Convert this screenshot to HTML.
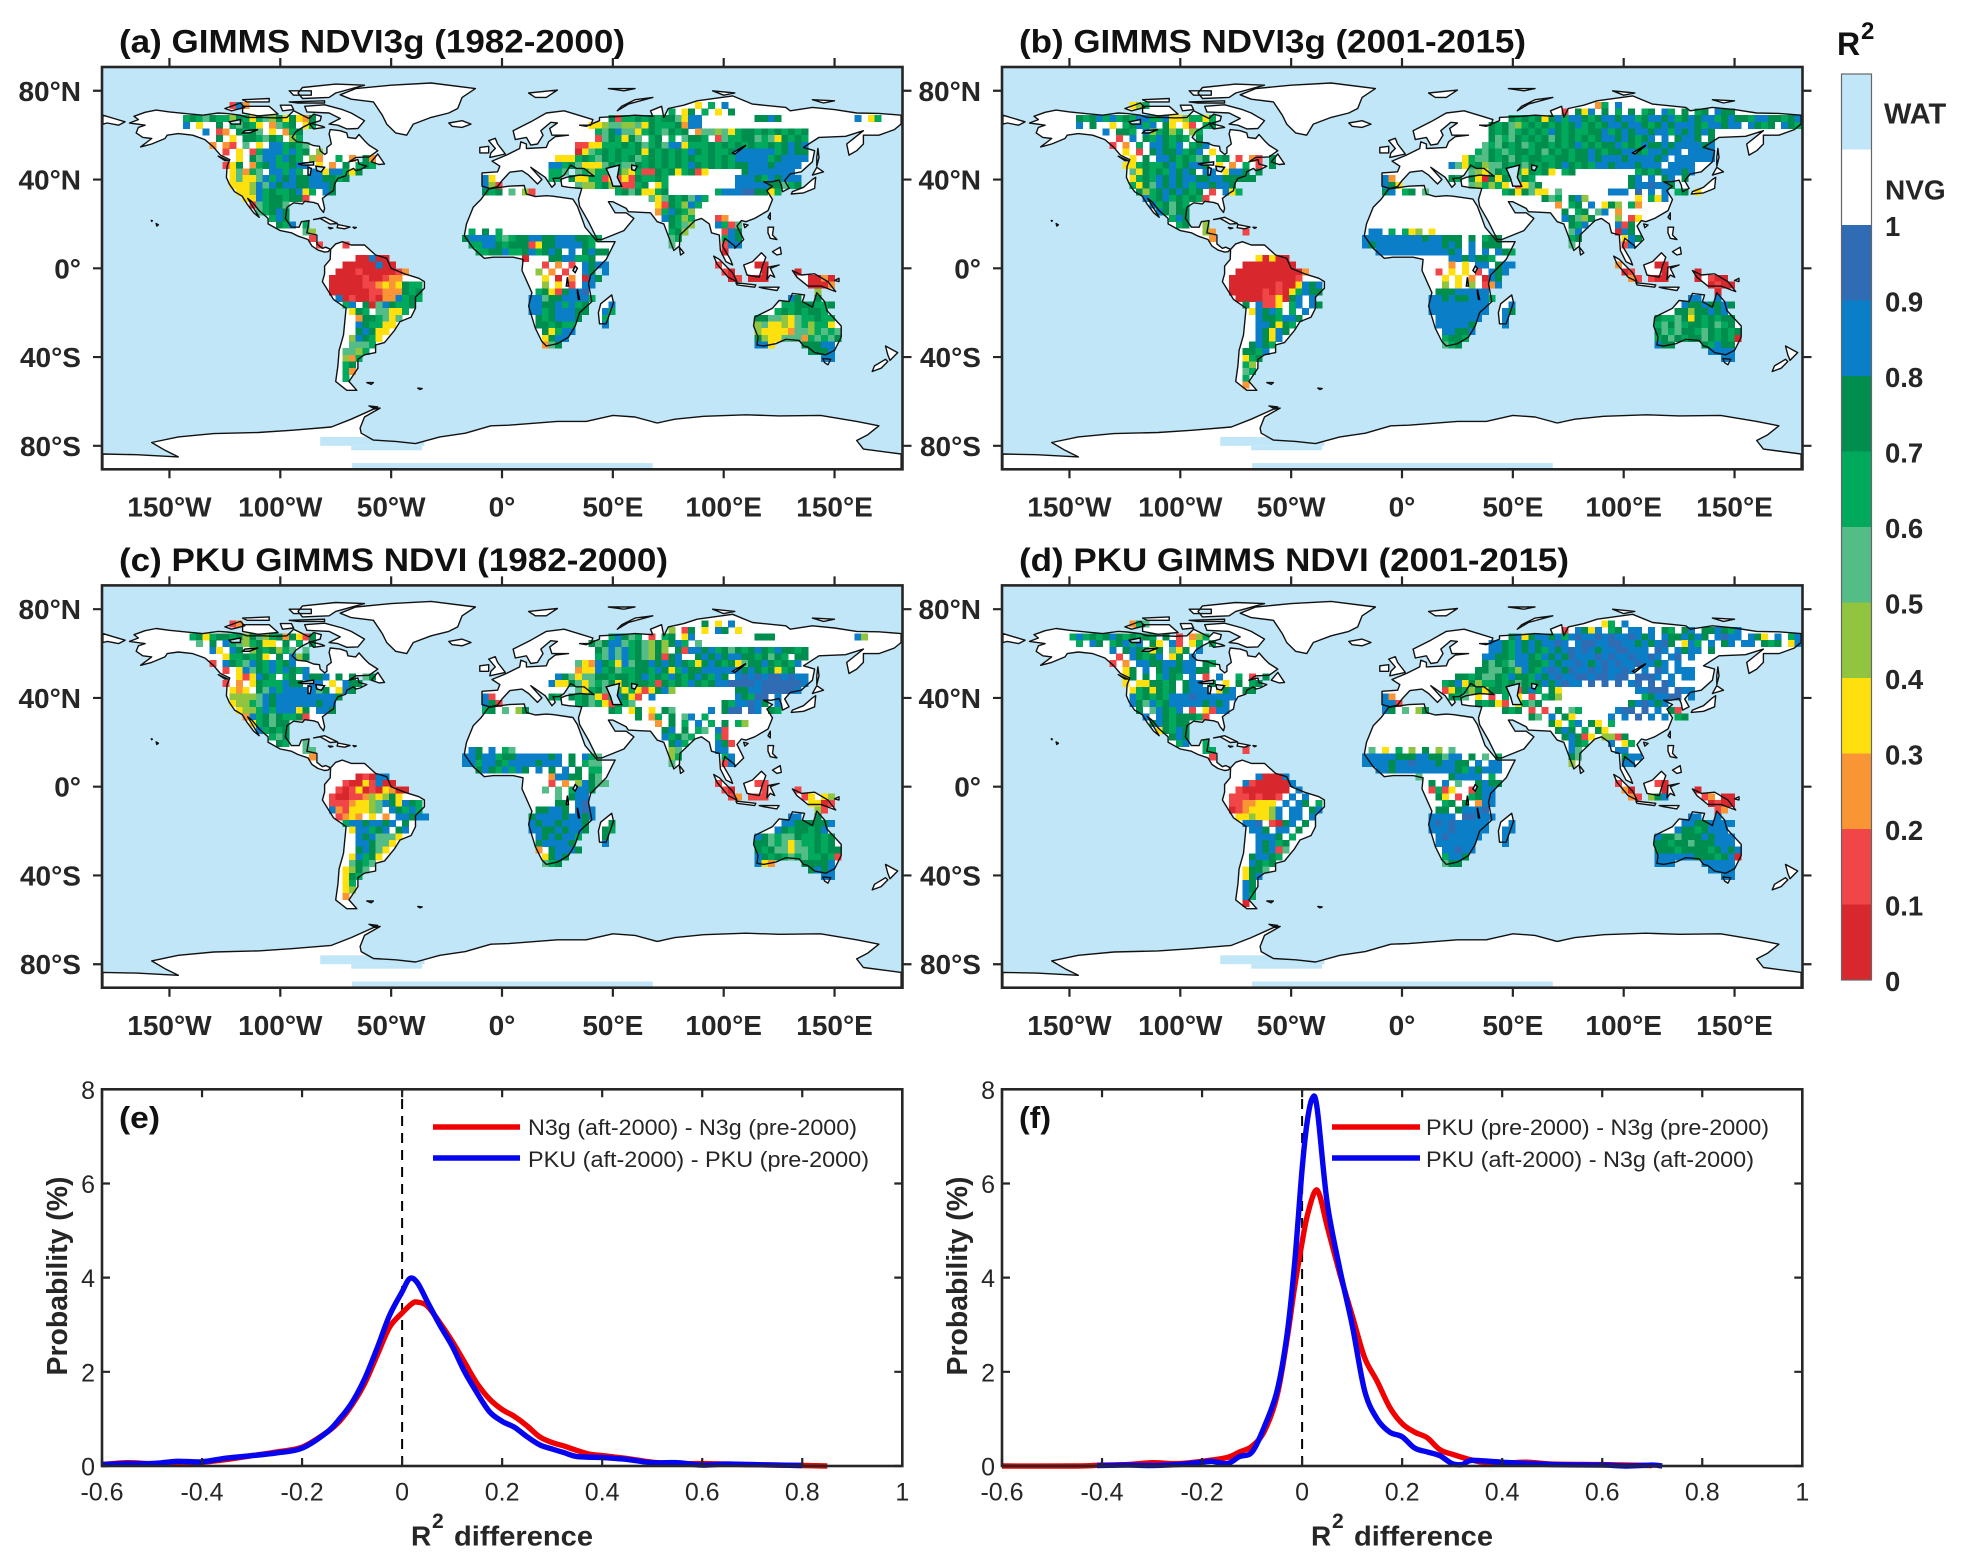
<!DOCTYPE html>
<html lang="en">
<head>
<meta charset="utf-8">
<title>R2 maps and difference distributions</title>
<style>
html,body{margin:0;padding:0;background:#fff;width:1968px;height:1565px;overflow:hidden}
svg{display:block;font-family:"Liberation Sans",Arial,sans-serif}
</style>
</head>
<body>
<svg id="figure" xmlns="http://www.w3.org/2000/svg" width="1968" height="1565" viewBox="0 0 1968 1565"></svg>
<script>
/* ---------- chart data ---------- */
const palette = ["#d9272e","#f04648","#f99534","#ffe00f","#92c53f","#54bc87","#00a95c","#008e4e","#0b7ec8","#2f6cb4"];
const waterColor = "#c1e6f7";
const colorbarLabels = ["0","0.1","0.2","0.3","0.4","0.5","0.6","0.7","0.8","0.9","1"];
const lonTicks = [-150,-100,-50,0,50,100,150];
const lonLabels = ["150°W","100°W","50°W","0°","50°E","100°E","150°E"];
const latTicks = [80,40,0,-40,-80];
const latLabels = ["80°N","40°N","0°","40°S","80°S"];
const diffTicks = [-0.6,-0.4,-0.2,0,0.2,0.4,0.6,0.8,1];
const diffLabels = ["-0.6","-0.4","-0.2","0","0.2","0.4","0.6","0.8","1"];
const probTicks = [0,2,4,6,8];
const probLabels = ["0","2","4","6","8"];

const eRedX = [-0.6,-0.55,-0.5,-0.45,-0.4,-0.35,-0.3,-0.25,-0.2,-0.15,-0.125,-0.1,-0.075,-0.05,-0.025,0,0.02,0.03,0.05,0.075,0.1,0.125,0.15,0.175,0.2,0.225,0.25,0.275,0.3,0.325,0.35,0.375,0.4,0.45,0.5,0.55,0.6,0.7,0.8,0.85];
const eRedY = [0.03,0.07,0.05,0.06,0.08,0.14,0.22,0.3,0.4,0.72,0.95,1.3,1.75,2.35,2.95,3.25,3.45,3.48,3.4,3.05,2.65,2.2,1.75,1.42,1.2,1.05,0.85,0.62,0.5,0.42,0.33,0.25,0.22,0.16,0.08,0.05,0.05,0.03,0.01,0];
const eBlueX = [-0.6,-0.55,-0.5,-0.45,-0.4,-0.35,-0.3,-0.25,-0.2,-0.15,-0.125,-0.1,-0.075,-0.05,-0.025,0,0.015,0.03,0.05,0.075,0.1,0.125,0.15,0.175,0.2,0.225,0.25,0.275,0.3,0.325,0.35,0.4,0.45,0.5,0.55,0.6,0.65,0.7,0.8];
const eBlueY = [0.03,0.05,0.05,0.1,0.09,0.17,0.22,0.28,0.38,0.72,1,1.35,1.85,2.5,3.2,3.7,3.98,3.9,3.5,3,2.55,2,1.55,1.15,0.95,0.82,0.62,0.45,0.36,0.28,0.2,0.18,0.14,0.07,0.07,0.02,0.04,0.03,0.01];
const fRedX = [-0.6,-0.45,-0.4,-0.35,-0.3,-0.25,-0.2,-0.15,-0.125,-0.1,-0.075,-0.05,-0.03,-0.015,0,0.01,0.025,0.035,0.05,0.075,0.1,0.125,0.15,0.175,0.2,0.225,0.25,0.275,0.3,0.35,0.4,0.45,0.5,0.6,0.7];
const fRedY = [0,0,0.02,0.03,0.07,0.05,0.1,0.18,0.3,0.42,0.75,1.5,2.7,3.8,4.75,5.3,5.82,5.75,5.1,4.1,3.2,2.3,1.8,1.25,0.9,0.72,0.6,0.35,0.25,0.1,0.06,0.08,0.04,0.03,0.01];
const fBlueX = [-0.41,-0.35,-0.3,-0.25,-0.2,-0.18,-0.15,-0.125,-0.1,-0.075,-0.05,-0.03,-0.015,0,0.01,0.02,0.03,0.05,0.075,0.1,0.125,0.15,0.175,0.2,0.225,0.25,0.275,0.3,0.32,0.34,0.4,0.5,0.6,0.65,0.7,0.72];
const fBlueY = [0.01,0.02,0.01,0.03,0.08,0.1,0.05,0.2,0.3,0.85,1.6,2.8,4.3,6.3,7.3,7.8,7.6,5.6,4.2,3,1.6,1,0.72,0.62,0.38,0.3,0.22,0.05,0.03,0.12,0.08,0.03,0.02,0,0.02,0];

/* R2 decile per 3-degree cell: [northern latitude, western longitude, digits] */
const cellsA = [
[75,-123,"182"],[69,-144,"67657664763654737327"],[66,-144,"8 3  7 65763 2567 36"],[63,-135,"8 12 7675 3 267"],[60,-132," 7 3 776576 46"],[57,-132,"2 21 5 3 886765"],[54,-126,"1 3 168886867 4"],[51,-126,"  3 75886876 42 "],[51,-75,"6 2 72"],[48,-126,"137 267866788 3 2 7 676"],[45,-123,"35265 88686 88388637"],[42,-123,"353358687877887767"],[39,-123,"3334858788778887"],[36,-120,"334867667836 87 "],[33,-117,"3386776771"],[30,-114,"156775"],[27,-111,"56787"],[24,-105,"687"],[21,-102,"768"],[21,-90,"6"],[18,-90,"54"],[15,-87,"1"],[12,-84,"1"],
[12,-72,"1"],[6,-66,"00800"],[3,-72,"00000800"],[0,-75,"00010000012"],[-3,-78,"00000100122"],[-6,-78,"00000112323766"],[-9,-78,"00000011222767"],[-12,-75,"8010010228676"],[-15,-72,"68 70587667"],[-18,-69,"376 55336"],[-21,-66,"2776535"],[-24,-66,"876633"],[-27,-66,"78733"],[-30,-69,"48763"],[-33,-69,"5556"],[-36,-72,"5546"],[-39,-72,"426"],[-42,-72,"67"],[-45,-72,"62"],[-48,-72,"6"],
[36,-9,"767 5 41"],[42,-9,"83"],[39,-9,"841"],[18,-15,"6 7 6"],[15,-18,"788886567788778887766"],[12,-18," 6688767771377888876"],[9,-12,"6677866786787 8 7877"],[6,9,"0"],[6,21,"7788667"],[3,12,"  1 2 1 8788"],[0,15,"4 2 1  87 8"],[-3,15," 3 0 2 087"],[-6,15," 4 3 1 88"],[-9,15,"67317889"],[-12,12,"8857788886"],[-15,12,"887786867"],[-18,12,"886788877"],[-21,15,"7678887"],[-24,15,"776766"],[-27,18,"73688"],[-30,18,"3788"],[-33,18,"257"],
[-15,48,"8"],[-18,45,"86"],[-21,45,"6"],[-24,45,"8"],
[75,87,"3 6 8"],[72,75,"6 37 6 3 7"],[69,48,"71667676775388"],[69,114,"7787"],[69,159,"8 36"],[66,39,"33455445376667288"],[63,42,"65785536765767"],[63,87,"25545367767676767"],[60,42,"1576375 67 6 57"],[60,87,"76 15667756537676"],[57,33,"11336667675675883666767676766767878"],[54,33,"03567676673767676876766788888867877"],[51,24,"33367657676756767676766767688888678888"],[48,21,"88675333576557676767687676767788878888"],[45,21,"665"],[45,33,"56466374361176736713"],[45,108,"78888888"],[42,21,"66"],[42,30,"733661313176676"],[42,105,"8887687888"],[39,33,"54467461167 36"],[39,105,"8888877567"],[36,51,"67573367"],[36,96,"6888997736"],[33,66,"535767586"],[30,69,"3176486"],[27,69,"268764"],[24,72,"87646"],[24,96,"12"],[21,75,"7654"],[21,96,"8615"],[18,75,"674"],[18,99,"187"],[15,75,"56"],[15,99,"687"],[12,75,"5"],[12,99,"188"],
[9,99,"0"],[3,96,"1"],[0,99,"10"],[-3,102,"01"],[3,114,"00"],[0,111,"  0"],[-3,111,"000"],[0,132,"0"],[-3,135," 0020"],[-6,138,"0002"],[-9,141,"4"],
[-12,129,"87"],[-12,141,"7"],[-15,126,"66777667"],[-18,123,"67676776"],[-21,114,"775543566766"],[-24,114,"453343564663"],[-27,114,"4333325546565"],[-30,114,"7433555265657"],[-33,114,"883"],[-33,135,"77788"],[-36,138,"7778"],[-39,144,"88"]
];
const cellsB = [
[75,-123,"346"],[69,-147,"767868676886683346636"],[66,-147,"8 7  3 67868 73 31 67"],[63,-135,"8 776 846746 46"],[60,-132," 1 8 7687676 7"],[57,-132,"1 2 6 88768 678"],[54,-126,"3 1 78778678 3 "],[51,-126," 3 7 88767657 67"],[51,-75,"1 21 7"],[48,-126,"3367667867887 3 2 6 1 7"],[45,-123,"5376768787 88 3887 7"],[42,-123,"3676878788778877777"],[39,-123,"6375878786887887"],[36,-120,"7467878767 1 836"],[33,-117,"8678676761"],[30,-114,"867576"],[27,-111,"87577"],[24,-105,"687"],[21,-102,"67"],[21,-90,"4"],[18,-90,"42"],[18,-72,"1"],[15,-87,"2"],
[6,-66,"30300"],[3,-72,"00000000"],[0,-75,"00000000002"],[-3,-78,"00000000001"],[-6,-78,"00000001003878"],[-9,-78,"00000101036877"],[-12,-75,"0000113078 8 "],[-15,-72,"7 8113 68 87"],[-18,-69,"38786 6 8"],[-21,-66,"8776887"],[-24,-66,"887376"],[-27,-66,"87387"],[-30,-69," 8738"],[-33,-69,"7876"],[-36,-72,"7768"],[-39,-72,"367"],[-42,-72,"64"],[-45,-72,"56"],[-48,-72,"6"],[-51,-72,"2"],
[36,-9,"78 67 5"],[42,-9,"82"],[39,-9,"873"],[18,-18," 88 6 634 3 "],[15,-18,"888888888788777 7 677"],[12,-18,"878888888888787 8 777"],[9,-12,"8888888888878 8 8 876"],[6,21,"8878776"],[3,12,"   2 3 88 788"],[0,15,"1 3 3 1 878"],[-3,15," 3 3 2 087"],[-6,15," 4 3 4 128"],[-9,15,"77788888"],[-12,12,"8878778886"],[-15,12,"888888888"],[-18,12,"888888888"],[-21,15,"8888888"],[-24,15,"888887"],[-27,18,"88778"],[-30,18,"6776"],[-33,18,"567"],
[-15,48,"8"],[-18,45,"87"],[-21,45,"8"],[-24,45,"8"],
[75,87,"26 8"],[72,72,"1 738 7 6 7 67 86 7 67 877"],[69,48,"767673786887678878867887867878867877688776788"],[66,39,"76754676767678676788788767878887688788 8767 876"],[63,39,"7675676768767667786787887886878787"],[60,39,"7565767675767676788787678 8 7887 7"],[57,36,"56576756776767867677867687787888878"],[54,33,"6576567767576767787677887688788 8888"],[51,27,"3655767576776677677878887888878 888888"],[48,21,"85367455767576767876768878887888 8888"],[45,30,"5435763637673 67"],[45,105,"676788878"],[42,21,"76"],[42,30,"7307376576"],[42,102,"78 8 78 7"],[39,30,"546463 1357"],[39,102,"7889887"],[36,45,"6737533 5"],[36,93,"888 9 8 8 67 3"],[33,63,"756 784"],[33,102," 3 638"],[30,69,"2 67 8 374 62"],[27,72,"7 67 58 2"],[24,72,"87547"],[24,93," 4 13"],[21,75,"768"],[21,96,"817"],[18,75,"58"],[18,96,"087"],[15,75,"67"],[15,99,"387"],[12,75,"5"],[12,99,"18"],
[3,96,"2"],[0,99,"01"],[-3,102,"21"],[3,114,"00"],[0,111,"  0"],[-3,111,"100"],[0,132,"0"],[-3,132,"0 100"],[-6,138,"0100"],[-9,141,"0"],
[-12,129,"88"],[-12,141,"8"],[-15,126,"87787787"],[-18,123,"77477878"],[-21,114,"766573767677"],[-24,114,"657567767567"],[-27,114,"7565776576767"],[-30,114,"6757677576760"],[-33,114,"877"],[-33,135,"76877"],[-36,138,"8888"],[-39,144,"88"]
];
const cellsC = [
[75,-123,"12"],[69,-141,"6736776747546727317"],[66,-141," 5 7 86546733 7 6 7"],[63,-135," 83 87 4767465 5"],[60,-132,"  3667673 7 847"],[57,-132,"1 87658768678"],[54,-126,"1 38576868768"],[51,-126,"  313876 67 8778"],[51,-75,"7 7 57 "],[48,-126,"1 2 37666877 88 3 877"],[45,-123,"323 75868888857 387"],[42,-123,"44445878888888887"],[39,-123,"3446587888888788"],[36,-120,"34468688837 887"],[33,-117,"2867576671"],[30,-114,"367577"],[27,-111,"86767"],[24,-105,"657"],[21,-102,"76"],[21,-90,"5"],[18,-90,"55"],[15,-87,"2"],
[6,-66,"01088"],[3,-72,"10031800"],[0,-75,"10130103200"],[-3,-78,"10011243473"],[-6,-78,"11123345873876"],[-9,-78,"82133345 87686"],[-12,-75,"1232 3 2 88788"],[-15,-72,"68878878 7 "],[-18,-69,"388678 78 "],[-21,-66,"8785553"],[-24,-66,"887553"],[-27,-66,"78753"],[-30,-69,"38673"],[-33,-69,"5765"],[-36,-72,"3475"],[-39,-72,"376"],[-42,-72,"36"],[-45,-72,"34"],[-48,-72,"2"],
[36,-9,"67 5 47"],[42,-9,"81"],[39,-9,"871"],[18,-18," 87 8 65"],[15,-18,"887886778888878 7 865"],[12,-18,"886887688887888 7 655"],[9,-12,"78768687 8 7 8 7 66"],[6,21,"28877 75"],[3,15,"  1 2 48755"],[0,15," 5 5 6887"],[-3,18,"  5 788"],[-6,18,"  77 89"],[-9,15,"77887 898"],[-12,12,"7888878878"],[-15,12,"878878887"],[-18,12,"887787887"],[-21,15,"8787886"],[-24,15,"788887"],[-27,15,"2 78887"],[-30,18,"3787"],[-33,18,"567"],
[-15,48,"7"],[-18,45,"76"],[-21,45,"7"],[-24,45,"8"],
[75,90,"7 3 8"],[72,75,"4 17 3 87 3"],[69,48,"68756 1 67 38 "],[69,114,"777"],[69,159,"84"],[66,39,"757885675474786 5"],[63,42,"75858675474 718"],[63,87,"87867576787687767"],[60,42,"6585867547178"],[60,87,"78787887767576 77"],[57,33,"5328763857787878763787673577876768"],[54,33,"233867566776873687788888878767367"],[51,24,"87535577677678676876787687 89898998988"],[48,21,"833753565737677617676876788999989999998"],[45,33,"536754636313784"],[45,105,"7788999998"],[42,21,"76"],[42,30,"76753168731 8"],[42,105,"87699 8"],[39,33,"675631765"],[39,99,"7688987 8"],[36,48,"76 37 3 75"],[36,93,"8 799 98 76"],[33,60,"7 26 7 58 6"],[30,69,"2 7 6 8 6 7 64"],[27,72,"78 7 65 81"],[24,72,"86756"],[24,96,"61"],[21,75,"786"],[21,96,"871"],[18,75,"45"],[18,96,"88"],[15,75,"46"],[15,99,"68"],[12,75,"5"],[12,99,"18"],
[3,96,"1"],[0,99,"10"],[-3,102,"12"],[3,114,"11"],[0,111,"  1"],[-3,111,"111"],[0,132,"1"],[-3,135,"13 34"],[-6,138,"3301"],[-9,141,"41"],
[-12,129,"88"],[-12,141,"7"],[-15,126,"88777778"],[-18,123,"87677678"],[-21,114,"875655766767"],[-24,114,"775653566767"],[-27,114,"7675535567677"],[-30,114,"8767656566761"],[-33,114,"832"],[-33,135,"77778"],[-36,138,"7878"],[-39,144,"88"]
];
const cellsD = [
[75,-123,"265"],[69,-150,"6867678767676 7 1 246 "],[66,-147,"6 87 67868 73 81 36 6"],[63,-135," 8 787637 537 8"],[60,-132," 1 87678 37 8"],[57,-132,"1 2 887788788 76"],[54,-126,"37 8 78778877"],[51,-126,"37 7 6876 8 1 8"],[51,-75,"6 1 7"],[48,-126,"3 337767 788 7 3 7 67"],[45,-123,"3673767 7888 378 77"],[42,-123,"8676768889888888"],[39,-123,"875867888887878"],[36,-120,"7 58768 1 3188"],[33,-117,"8 87677761"],[30,-114,"787677"],[27,-111,"37687"],[24,-105,"787"],[21,-102,"68"],[21,-90,"6"],[18,-90,"66"],[18,-72,"1"],[15,-87,"1"],
[6,-66,"80008"],[3,-72,"81000008"],[0,-75,"10000000 8 "],[-3,-78,"11101001 8 8"],[-6,-78,"1122333 8 87 6"],[-9,-78,"01233348 88 78"],[-12,-75,"3343348 88 8 "],[-15,-72,"889 1078 7 "],[-18,-69,"887 88 7 "],[-21,-66,"8887 6 "],[-24,-66,"87867"],[-27,-66,"87815"],[-30,-69,"78876"],[-33,-69,"8767"],[-36,-72,"3775"],[-39,-72,"378"],[-42,-72,"87"],[-45,-72,"87"],[-48,-72,"86"],[-51,-72,"0"],
[36,-9,"87 5 47"],[42,-9,"82"],[39,-9,"881"],[18,-15,"5 3 6 4 7 4 5"],[15,-18,"888887778877588 7 5 6"],[12,-18,"8888788988878877 8 88"],[9,-12,"8878888888887687888"],[6,6,"5"],[6,21,"78888 6"],[3,12,"7 8 5  7877"],[0,12,"1613  1788"],[-3,15,"73 1 6788"],[-6,18,"67 7 288"],[-9,15,"77 78889"],[-12,12,"8888 99888"],[-15,12,"898988888"],[-18,12,"888988888"],[-21,15,"8988888"],[-24,15,"888888"],[-27,18,"88988"],[-30,18,"6887"],[-33,18,"577"],
[-15,48,"8"],[-18,45,"88"],[-21,45,"8"],[-24,45,"8"],
[75,90,"36 8"],[72,72,"1 8738 67 88 8 76 78 7"],[72,138,"78768 "],[69,48,"7837887868988989889878 8778787 8988 873 8 68"],[66,39,"887687878898 899889988787897 386 8 78 88 767 38"],[63,39,"887687876878989878899888 98 8788 7"],[60,36,"887768876878798889898898898 89 8"],[57,36,"7576588776878898789898898878 8"],[54,33,"775576487689879889898898 8 98 888"],[51,24,"77675576877687898899899899 9998 8 88"],[48,18,"678374667675767878988 9 9 9 89 9 98"],[45,18,"137647377671786 73"],[45,105,"88999 988"],[42,21,"765 3 1 6 3 1 674"],[42,108,"678899 8"],[39,33,"76731 3657"],[39,102,"789878"],[36,45,"767 1 1 7 56"],[36,96,"899 9 8 71"],[33,57,"75 8 73"],[33,93,"8 8 9 8 8 67"],[30,66,"73 68 73 6"],[27,69,"787 6 73"],[24,72,"78713 44"],[24,96,"17"],[21,75,"876"],[21,93,"8 36"],[18,75,"85"],[18,96,"88"],[15,75,"75"],[15,99,"788"],[12,75,"4"],[12,99,"88"],
[3,96,"1"],[0,99,"20"],[-3,102,"21"],[3,114,"10"],[0,111,"  0"],[-3,111,"478"],[0,132,"0"],[-3,135,"12 00"],[-6,138,"0100"],[-9,141,"12"],
[-12,129,"88"],[-12,141,"8"],[-15,126,"88778888"],[-18,123,"87767888"],[-21,114,"877577787888"],[-24,114,"776775777888"],[-27,114,"7776777767878"],[-30,114,"8888887776780"],[-33,114,"888"],[-33,135,"88888"],[-36,138,"8888"],[-39,144,"88"]
];

/* Coastlines: flat lon,lat outlines */
const landOutlines = [
[-168,65.5,-164,67,-166,68.5,-161,70.3,-156,71.3,-150,70.5,-141,69.6,-135,69,-128,70,-124,69.7,-118,69,-115,68,-108,68,-102,67.8,-97,68,-94,71,-90,69,-87,67.5,-85,69.5,-81.5,68.5,-82,66.5,-87,65,-90,63.5,-93,61.5,-94.7,59,-92.5,57,-88,56.5,-85,55.3,-82.3,55,-82,53,-80,51.3,-79,52,-79,54.5,-77,56,-77.5,58.5,-78,60.5,-77.5,62.5,-73,62,-70,61,-69.5,59,-66,58.5,-64.5,60.3,-62,57.5,-60,55.5,-56,53,-60,50.2,-66,50,-69,48,-65,49,-64.5,47,-61,46,-64,44.5,-66,44,-67,45,-70,43.5,-70.5,41.7,-74,40.5,-75.5,38,-76,35,-78,33.8,-81,31.5,-80,27,-80.5,25.2,-82,27,-83,29,-85,29.7,-89,30.2,-90,29,-94,29.5,-97,27.5,-97.7,22.5,-95,18.5,-91.5,18.5,-90.5,21,-87,21.5,-88,16,-83.5,15,-83.5,11,-81,9,-79.5,9.5,-77.3,8.5,-78.5,7.5,-80,7.3,-83,8.2,-85.7,10,-87.5,13,-92,14.5,-95,16,-100,17,-105.5,20,-105.5,22.5,-109.5,26,-112.8,30,-114.7,31.5,-112,27,-109.5,23,-112,25,-115,29,-117.2,32.5,-120.6,34.5,-123,38,-124.3,41,-124,46,-122.8,49,-127,51,-130,54.5,-134,58,-139.5,60,-146,60.7,-151,60,-152,58.5,-158,56,-163,54.7,-158,58.5,-162,59,-165,61,-164,63.5,-161,64.5],
[-180,69,-175,67.5,-170,66,-173,64.5,-178,65.5,-180,65],
[-80,73.7,-72,71.5,-68,70,-62,66.5,-65,63,-70,62.8,-74,64.5,-78,65,-73,67.5,-78,70,-88,70.5,-89,73],
[-117,73,-105,73,-101,69.5,-110,68.7,-117,70],[-125,72,-118,74.5,-116,72.5,-122,71],[-90,76.5,-78,77,-75,79,-62,82.5,-75,83,-90,81.5,-92,79],[-96,75,-80,75.5,-80,74.5,-92,74.5],[-117,76,-105,76.5,-105,75,-115,75],[-96,80,-86,80,-86,78,-94,78],[-100,73.5,-95,73.5,-94,71.5,-99,71],[-87,65.5,-81,64,-80,63.5,-85,62.8],
[-59,48,-56,51.5,-53,47,-55.5,46.8],[-128,50.5,-123.5,48.5,-125,48.5],[-85,22,-80,23,-74.2,20.2,-77.5,19.9,-82,22.5],[-74,19.7,-68.5,18.6,-71,17.8,-74.4,18.3],[-78.3,18.4,-76.3,18.1,-77.5,17.8],[-67.2,18.5,-65.7,18.4,-66.5,18],[-156,20.2,-155,19.6,-155.7,19],[-158.2,21.6,-157.7,21.4,-158,21.2],
[-73,78.2,-66,81,-50,82.5,-32,83.5,-12,81,-18,77,-20,72,-24,70,-32,68,-40,65,-43,60,-48,61,-52,65,-54,69,-58,75,-68,76.2],
[-24,65.5,-18,66.5,-14,65,-18,63.5,-22.5,64],[12,79,25,80.3,20,77,15,77],[52,71,57,74,68,77,60,76,54,73],[48,81,60,81,55,80],[95,80,105,79,100,78],[140,76,150,75.5,145,74.5],
[-77.3,8.5,-75,11,-72,12,-68,10.5,-62,10.5,-57,6,-52,4.5,-50,0,-44,-2.5,-37.5,-4.5,-35,-6,-35,-9,-39,-13,-39,-18,-41,-22,-46,-24,-48.5,-28,-53,-33.5,-57,-34.5,-57,-38,-62,-39,-65,-41,-65,-45,-69,-51,-65.5,-55,-70,-55,-75,-51,-74,-44,-73.5,-37,-71.5,-30,-70.3,-18,-76,-14,-81,-6,-80,-2.5,-80,1,-77.5,4],
[-61,-51.5,-58,-51.5,-59,-52.3],[-38,-54,-36,-54.2,-37,-54.6],[-60,-62,-56,-62.5,-58,-63],
[-6,35.8,3,37,10,37.3,11,33.5,15,32.3,20,32.7,23,32.5,32,31.2,34,28,35.5,24,37.5,18.5,43,12,51,12,47,4,40,-3,39,-7,40.5,-15,35,-20,33,-26,30,-31,25,-34,20,-35,18,-33,15,-27,12,-17,13.5,-11,9,-1,9.5,4,5,5,-4,5,-8,4.5,-13,9,-17,14.7,-16,20,-13,27.5,-9.5,31],
[49.5,-12,50.3,-15.5,47,-25,44,-25,43.5,-20,44.5,-16],
[-9,37,-9,43,-2,43.5,-1,46,-4.5,48.3,2,51,8,54,8.5,57,11,56,11,54,20,54.5,21,57,24,59.3,30,60,22.5,60,21.5,63,25,65.5,22,65.8,17.5,62,18.5,60,16,56,13,55.5,11,59,6,58,5,62,13,66,20,70,28,71,41,67,40,64.5,35,64.5,38,64,44,66.5,44,68,54,68.5,60,69,68,68.5,67,71,72,73,73,68,75,72,82,73.5,88,75.5,104,77.7,113,74,128,72.5,130,71,140,72.5,150,71.5,160,70,170,69.8,180,69,180,65,177,62.5,170,60,163,60,163,56,160,53,156.5,51,155.5,56,158,58,163,62,155,59.5,143,59,136,54.5,141,53,140,48,135,43.5,130,42.5,127.5,39.5,129.5,36,126.5,34.5,126,37.5,125,39.7,121.5,39,118,39,122,37,119.5,35,122,31,120,26,114,22.5,110,21,108,21.5,106,19,109,13,105,9,105,10,100.5,13.5,99.5,10,103,4,104,1.5,101,3,98.5,8,98,15,94.5,16,93.5,20,90,22.5,87,21.5,80.3,15,80,10,77.5,8,73,20,70,21,67,25,57,25.5,56,27,50,30,48,30,51,25,56,25,59.5,22.5,55,17,45,13,43,13,39,21,35,28,34.5,31,36,36,30,36.5,27,37,26.5,40,29,41,35,42,41.5,41.5,37,45,33.5,45,31,46.5,28,42,26,40.7,23,40.5,24,38,22.5,36.5,19.5,41,13,45.5,18,40,16,38,12,42,9,44,3.5,43.3,0,39.5,-2,36.8,-5.5,36],
[-5.5,50,1.5,51.5,0,53.5,-2,56,-3,58.6,-6,57.5,-3,54,-5,52],[-10,52,-6,52,-6,55,-10,54.5],
[130.5,33.5,136,34,141,36,141.5,41,140,40,136,36.5,131,34.5],[140,42,145,43.5,142,45.5],[142,46,143,50,142.5,54,142,50],[121,25,121,22,120,23],[109,20,111,19.5,109.5,18.3],[80,9.5,82,7,80.5,6],
[120,18.5,122.5,18.5,122,15,124,13,121,13.5,120,16],[122,7.5,125.5,9.5,126,6.5,124,6],[95.5,5.5,98,4,104,-2,106,-6,102,-4,97,2],[105.5,-6.5,114.5,-7.5,114,-8.5,106,-7.5],[109,1.5,113,3,117,7,119,5,117.5,1,116,-4,110.5,-3],[119.5,-5,120,0.5,125,1.5,121,0,123,-4,121,-3],
[131,-1,135,-3,141,-2.5,147,-6,150.5,-10.5,144,-8,138,-8,133,-4],[150,-5.5,152,-4.5,152,-6],[116,-8.5,125,-8.5,124,-10,118,-9],
[173,-35,178.5,-38,175,-41.5,174,-39],[173,-41,174,-42,171,-45,167,-46.5,168,-44],[144.7,-40.7,148.3,-41,147,-43.5,145.5,-42.5],
[114,-22,122,-18,125,-14.5,129.5,-15,131,-11.3,136.5,-12,135.5,-15,140,-17.5,142,-11,145.5,-15,146.5,-19,153,-26,153,-31,150,-37,146,-39,141,-38,138,-35.5,136,-35,134,-32.5,128,-32,123.5,-34,118,-35,115,-34.5,115.5,-31,113.5,-26],
[-180,-83.7,-165,-84,-146,-85,-152,-82,-158,-78.5,-146,-76,-130,-74.5,-110,-74,-95,-73,-77,-71.5,-68,-68,-58,-63.5,-55,-63,-62,-67,-64,-72,-63.5,-74.3,-58,-77.4,-48,-78,-39,-79,-28,-76,-16.5,-74.3,-5,-71,3,-70.7,25,-69,38,-69,50,-66.3,60,-67,70,-69.7,78,-68,91,-66.7,110,-66,125,-66.5,143.7,-66.3,160,-69,170,-71,165,-75,160,-77.6,163,-81.5,180,-83.7,180,-91,-180,-91]
];
const lakeOutlines = [
[47,45,53,46.5,52,41,54,37,50,37,49,40.5],[58.5,46.5,61,46,60,44,58.5,44.5],[-92,47,-85,48,-85,46.5,-90,46.5],[-87.5,45.5,-86,45,-86.5,42,-87.5,42],[-84,46,-80,45.5,-81.5,43.5,-83.5,44],[-123,66,-118,67,-118,65,-122,65],[-116,62,-110,62.5,-114,61,-117,61],[104,52,110,55.5,109.5,55,105,51.5],[33,1,34,0,33,-2,32,-1],[29.5,-4,30,-8,29,-8],[34,-9.5,35,-14,34.5,-14,34,-11]
];
const antarcticWater = [[-67.6,-87.8,68,-90],[-82,-76,-35,-80],[-68,-80,-36,-82],[68,-68,72,-70]];
/* ---------- drawing ---------- */
const NS = "http://www.w3.org/2000/svg";
const svg = document.getElementById("figure");
const INK = "#262626";
function mk(tag, attrs, parent, text) {
  const e = document.createElementNS(NS, tag);
  for (const k in attrs) e.setAttribute(k, attrs[k]);
  if (text !== undefined) e.textContent = text;
  (parent || svg).appendChild(e);
  return e;
}
const mapPanels = [
  {id:"a",ox:0,oy:0,title:"(a) GIMMS NDVI3g (1982-2000)",titleLen:506,cells:cellsA},
  {id:"b",ox:900,oy:0,title:"(b) GIMMS NDVI3g (2001-2015)",titleLen:507,cells:cellsB},
  {id:"c",ox:0,oy:518.4,title:"(c) PKU GIMMS NDVI (1982-2000)",titleLen:549,cells:cellsC},
  {id:"d",ox:900,oy:518.4,title:"(d) PKU GIMMS NDVI (2001-2015)",titleLen:550,cells:cellsD}
];
function outlinePath(list, lonToX, latToY) {
  return list.map(function (p) {
    let s = "";
    for (let i = 0; i < p.length; i += 2) s += (i ? "L" : "M") + lonToX(p[i]).toFixed(1) + " " + latToY(p[i + 1]).toFixed(1);
    return s + "Z";
  }).join("");
}
mapPanels.forEach(function (p) {
  const lonToX = function (lon) { return p.ox + 502 + lon * 2.217; };
  const latToY = function (lat) { return p.oy + 268.3 - lat * 2.219; };
  const left = p.ox + 102, right = p.ox + 902.5, top = p.oy + 67, bottom = p.oy + 469.3;
  const g = mk("g", {});
  
  
  const defs = mk("clipPath", {id: "clip-" + p.id}, g);
  mk("rect", {x: left, y: top, width: right - left, height: bottom - top}, defs);
  const ttl = mk("text", {x: p.ox + 119, y: p.oy + 52.7, "font-size": 32.5, "font-weight": "bold", fill: "#111", textLength: p.titleLen, lengthAdjust: "spacingAndGlyphs"}, g, p.title);
  
  
  const inner = mk("g", {"clip-path": "url(#clip-" + p.id + ")"}, g);
  const ocean = mk("rect", {x: left, y: top, width: right - left, height: bottom - top, fill: waterColor}, inner);
  
  
  const landFill = mk("path", {d: outlinePath(landOutlines, lonToX, latToY), fill: "#fff"}, inner);
  
  
  antarcticWater.forEach(function (w) {
    const r = mk("rect", {x: lonToX(w[0]), y: latToY(w[1]), width: (w[2] - w[0]) * 2.217, height: (w[1] - w[3]) * 2.219, fill: waterColor}, inner);
    
    
  });
  const cellGroup = mk("g", {"shape-rendering": "crispEdges"}, inner);
  
  
  p.cells.forEach(function (row) {
    const lat = row[0], lon = row[1], digits = row[2];
    for (let i = 0; i < digits.length; i++) {
      if (digits[i] === " ") continue;
      const x0 = lonToX(lon + 3 * i), y0 = latToY(lat);
      const c = mk("rect", {x: x0.toFixed(1), y: y0.toFixed(1), width: 7, height: 7, fill: palette[+digits[i]]}, cellGroup);
      
      
    }
  });
  const lakes = mk("path", {d: outlinePath(lakeOutlines, lonToX, latToY), fill: waterColor, stroke: "#000", "stroke-width": 1.4}, inner);
  
  
  const coast = mk("path", {d: outlinePath(landOutlines, lonToX, latToY), fill: "none", stroke: "#111", "stroke-width": 1.4, "stroke-linejoin": "round"}, inner);
  
  
  const frame = mk("rect", {x: left, y: top, width: right - left, height: bottom - top, fill: "none", stroke: INK, "stroke-width": 2.6}, g);
  
  
  lonTicks.forEach(function (t, i) {
    const x = lonToX(t);
    const tk = mk("path", {d: "M" + x + " " + top + "v-9M" + x + " " + bottom + "v9", stroke: INK, "stroke-width": 2.2}, g);
    
    
    const lb = mk("text", {x: x, y: p.oy + 516.5, "text-anchor": "middle", "font-size": 28, "font-weight": "bold", fill: INK}, g, lonLabels[i]);
    
    
  });
  latTicks.forEach(function (t, i) {
    const y = latToY(t);
    const tk = mk("path", {d: "M" + left + " " + y + "h-9M" + right + " " + y + "h9", stroke: INK, "stroke-width": 2.2}, g);
    
    
    const lb = mk("text", {x: p.ox + 81, y: y + 10, "text-anchor": "end", "font-size": 28, "font-weight": "bold", fill: INK}, g, latLabels[i]);
    
    
  });
});

/* Colour bar */
const cbLeft = 1841.5, cbWidth = 30, cbTop = 74, cbStep = 75.5;
const cbSwatches = [waterColor, "#ffffff"].concat(palette.slice().reverse());
const cbGroup = mk("g", {});


cbSwatches.forEach(function (col, i) {
  const r = mk("rect", {x: cbLeft, y: cbTop + i * cbStep, width: cbWidth, height: cbStep + 0.4, fill: col}, cbGroup);
  
  
});
const cbEdge = mk("rect", {x: cbLeft, y: cbTop, width: cbWidth, height: cbStep * 12, fill: "none", stroke: "#666", "stroke-width": 1.2}, cbGroup);


colorbarLabels.forEach(function (t, i) {
  const lb = mk("text", {x: 1885, y: cbTop + 12 * cbStep - i * cbStep + 11, "font-size": 27.5, "font-weight": "bold", fill: INK}, cbGroup, t);
  
  
});
const watLabel = mk("text", {x: 1884, y: 123.7, "font-size": 29, "font-weight": "bold", fill: INK}, cbGroup, "WAT");


const nvgLabel = mk("text", {x: 1885, y: 199.7, "font-size": 28, "font-weight": "bold", fill: INK}, cbGroup, "NVG");


const cbTitle = mk("text", {x: 1837, y: 55, "font-size": 32, "font-weight": "bold", fill: "#111"}, cbGroup, "R");


const cbSup = mk("text", {x: 1861, y: 39, "font-size": 24, "font-weight": "bold", fill: "#111"}, cbGroup, "2");



/* Line panels */
const linePanels = [
  {id:"e",ox:0,red:[eRedX,eRedY],blue:[eBlueX,eBlueY],names:["N3g (aft-2000) - N3g (pre-2000)","PKU (aft-2000) - PKU (pre-2000)"],lens:[329,341],lineX:[433,520],textX:528,tag:"(e)",tagLen:41},
  {id:"f",ox:900,red:[fRedX,fRedY],blue:[fBlueX,fBlueY],names:["PKU (pre-2000) - N3g (pre-2000)","PKU (aft-2000) - N3g (aft-2000)"],lens:[343,328],lineX:[1332,1420],textX:1426,tag:"(f)",tagLen:32}
];
linePanels.forEach(function (p) {
  const left = p.ox + 102, right = p.ox + 902.3, top = 1089.3, bottom = 1466;
  const xs = function (v) { return left + (v + 0.6) / 1.6 * (right - left); };
  const ys = function (v) { return bottom - v / 8 * (bottom - top); };
  const g = mk("g", {});
  
  
  const zero = mk("line", {x1: xs(0), x2: xs(0), y1: bottom, y2: top, stroke: "#000", "stroke-width": 2, "stroke-dasharray": "10 7"}, g);
  
  
  const pathOf = function (xv, yv) {
    const px = xv.map(xs), py = yv.map(ys);
    let d = "M" + px[0].toFixed(1) + " " + py[0].toFixed(1);
    for (let i = 0; i < px.length - 1; i++) {
      const a = Math.max(i - 1, 0), b = Math.min(i + 2, px.length - 1);
      const c1x = px[i] + (px[i + 1] - px[a]) / 6, c1y = py[i] + (py[i + 1] - py[a]) / 6;
      const c2x = px[i + 1] - (px[b] - px[i]) / 6, c2y = py[i + 1] - (py[b] - py[i]) / 6;
      d += "C" + c1x.toFixed(1) + " " + c1y.toFixed(1) + " " + c2x.toFixed(1) + " " + c2y.toFixed(1) + " " + px[i + 1].toFixed(1) + " " + py[i + 1].toFixed(1);
    }
    return d;
  };
  const redLine = mk("path", {d: pathOf(p.red[0], p.red[1]), fill: "none", stroke: "#f00000", "stroke-width": 5.4, "stroke-linejoin": "round"}, g);
  
  
  const blueLine = mk("path", {d: pathOf(p.blue[0], p.blue[1]), fill: "none", stroke: "#0505f0", "stroke-width": 5.4, "stroke-linejoin": "round"}, g);
  
  
  const frame = mk("rect", {x: left, y: top, width: right - left, height: bottom - top, fill: "none", stroke: INK, "stroke-width": 2.6}, g);
  
  
  diffTicks.forEach(function (t, i) {
    const x = xs(t);
    const tk = mk("path", {d: "M" + x + " " + bottom + "v-8M" + x + " " + top + "v8", stroke: INK, "stroke-width": 2.2}, g);
    
    
    const lb = mk("text", {x: x, y: 1500.7, "text-anchor": "middle", "font-size": 25, fill: INK}, g, diffLabels[i]);
    
    
  });
  probTicks.forEach(function (t, i) {
    const y = ys(t);
    const tk = mk("path", {d: "M" + left + " " + y + "h8M" + right + " " + y + "h-8", stroke: INK, "stroke-width": 2.2}, g);
    
    
    const lb = mk("text", {x: p.ox + 95, y: y + 9.5, "text-anchor": "end", "font-size": 25, fill: INK}, g, probLabels[i]);
    
    
  });
  const yTitle = mk("text", {transform: "translate(" + (p.ox + 67) + " 1276) rotate(-90)", "text-anchor": "middle", "font-size": 29, "font-weight": "bold", fill: INK, textLength: 199, lengthAdjust: "spacingAndGlyphs"}, g, "Probability (%)");
  
  
  const xTitleR = mk("text", {x: p.ox + 411, y: 1545.7, "font-size": 28, "font-weight": "bold", fill: INK}, g, "R");
  
  
  const xTitleSup = mk("text", {x: p.ox + 432, y: 1528, "font-size": 21, "font-weight": "bold", fill: INK}, g, "2");
  
  
  const xTitleWord = mk("text", {x: p.ox + 454, y: 1545.7, "font-size": 28, "font-weight": "bold", fill: INK, textLength: 139, lengthAdjust: "spacingAndGlyphs"}, g, "difference");
  
  
  const tag = mk("text", {x: p.ox + 119, y: 1128, "font-size": 31, "font-weight": "bold", fill: "#111", textLength: p.tagLen, lengthAdjust: "spacingAndGlyphs"}, g, p.tag);
  
  
  [["#f00000", 1127, 1135], ["#0505f0", 1158, 1167]].forEach(function (row, i) {
    const sw = mk("line", {x1: p.lineX[0], x2: p.lineX[1], y1: row[1], y2: row[1], stroke: row[0], "stroke-width": 5.4}, g);
    
    
    const tx = mk("text", {x: p.textX, y: row[2], "font-size": 22.5, fill: INK, textLength: p.lens[i], lengthAdjust: "spacingAndGlyphs"}, g, p.names[i]);
    
    
  });
});
</script>
</body>
</html>
